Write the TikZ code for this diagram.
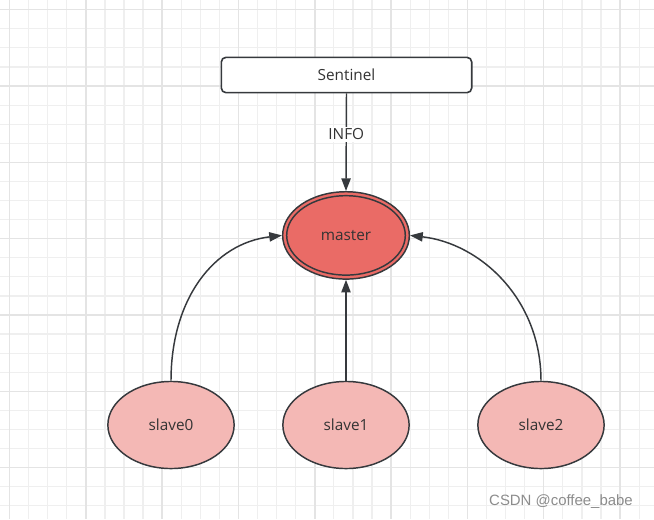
\documentclass[tikz,border=0pt]{standalone}
\usepackage{fontspec}
\setmainfont{Open Sans}
\newfontfamily\wmfont{Liberation Sans}
\usetikzlibrary{shapes.geometric,arrows.meta}
\definecolor{strokec}{HTML}{36393D}
\definecolor{textc}{HTML}{333333}
\definecolor{masterfill}{HTML}{EA6B66}
\definecolor{slavefill}{HTML}{F4B8B5}
\definecolor{gridminor}{HTML}{EFEFEF}
\definecolor{gridmajor}{HTML}{E4E4E4}
\tikzset{
  lbl/.style={font=\fontsize{11.5}{13}\selectfont, text=textc},
  sentbox/.style={draw=strokec, line width=1.2pt, rounded corners=3.5pt, fill=white,
    minimum width=187.8pt, minimum height=26.5pt, inner sep=0pt, lbl},
  masternode/.style={ellipse, draw=strokec, line width=1.1pt, fill=masterfill,
    minimum width=95pt, minimum height=65.5pt, inner sep=0pt, lbl},
  slavenode/.style={ellipse, draw=strokec, line width=1.1pt, fill=slavefill,
    minimum width=94.7pt, minimum height=65.3pt, inner sep=0pt, lbl},
  conn/.style={draw=strokec, line width=1.1pt, -{Triangle[length=9.5pt,width=7pt]}},
  edgelbl/.style={fill=white, inner sep=1.5pt, lbl},
  gridmin/.style={draw=gridminor, line width=0.9pt},
  gridmaj/.style={draw=gridmajor, line width=1.1pt},
}
\begin{document}
\begin{tikzpicture}[x=0.75pt,y=-0.75pt]
\path[use as bounding box, fill=white] (0,0) rectangle (654,519);
% grid
\foreach \k in {0,...,34} {\draw[gridmin] ({9.5+19.08*\k},0) -- ({9.5+19.08*\k},519);}
\foreach \k in {0,...,26} {\draw[gridmin] (0,{9.7+19.08*\k}) -- (654,{9.7+19.08*\k});}
\foreach \k in {0,4,8,12,16,20,24,28,32} {\draw[gridmaj] ({9.5+19.08*\k},0) -- ({9.5+19.08*\k},519);}
\foreach \k in {0,4,8,12,16,20,24} {\draw[gridmaj] (0,{9.7+19.08*\k}) -- (654,{9.7+19.08*\k});}
% nodes
\node[sentbox] (sent) at (346.5,75) {Sentinel};
\node[masternode] (master) at (346,235.4) {};
\draw[strokec, line width=1.1pt] (master.center) ellipse [x radius=59.3, y radius=39.7];
\node[lbl] (mlabel) at (master.center) {master};
\node[slavenode] (s0) at (171,425) {slave0};
\node[slavenode] (s1) at (346,425) {slave1};
\node[slavenode] (s2) at (541,425) {slave2};
% connectors
\draw[conn] (sent.south) -- node[edgelbl, pos=0.42] {INFO} (master.north);
\draw[conn] (s1.north) -- (master.south);
\draw[conn] (s0.north) .. controls +(0,-82) and +(-68,8) .. (master.west);
\draw[conn] (s2.north) .. controls +(0,-82) and +(70,8) .. (master.east);
% watermark
\node[font=\wmfont\fontsize{11.2}{13}\selectfont, text=black!45] (wm) at (561,502) {CSDN @coffee\_babe};
\end{tikzpicture}
\end{document}
